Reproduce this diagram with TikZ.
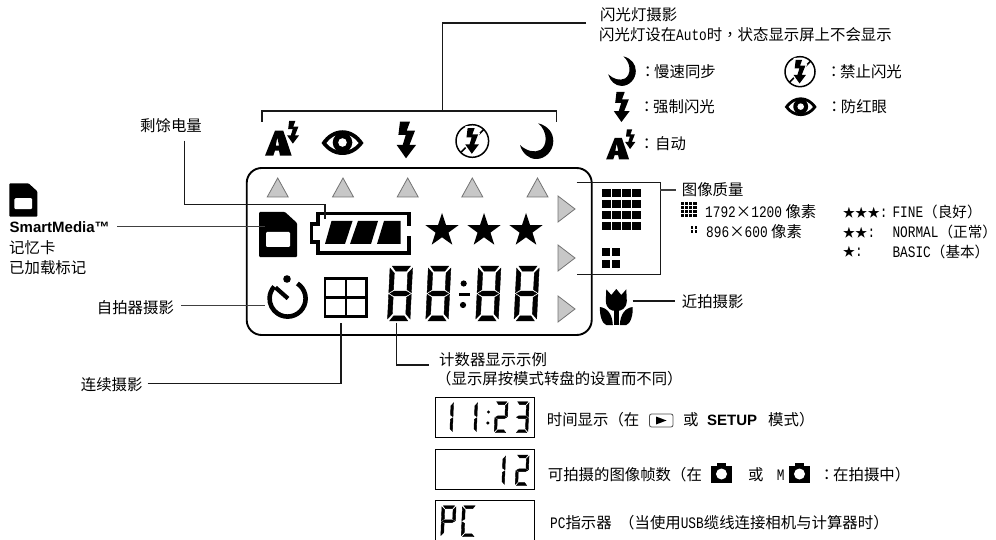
\documentclass[tikz,border=0pt]{standalone}
\usepackage{fontspec}
\setmainfont{Noto Sans CJK SC}
\newfontfamily\cjkc{Noto Sans CJK TC}
\newfontfamily\latm[FakeStretch=0.8]{Liberation Mono}
\newfontfamily\lats{Liberation Sans}
\newcommand\mo[1]{{\latm\fontsize{16}{18}\selectfont #1}}
\newcommand\cln{{\cjkc ：}}
\newcommand\lp{{\cjkc （}}
\newcommand\rp{{\cjkc ）}}
\newcommand\cm{{\cjkc ，}}
\def\sega{(12,0)--(88,0)--(72,9.5)--(28,9.5)--cycle}
\def\segb{(97,4)--(78,13)--(78,43)--(97,48.5)--cycle}
\def\segc{(97,51.5)--(78,57)--(78,87)--(97,96)--cycle}
\def\segd{(12,100)--(28,90.5)--(72,90.5)--(88,100)--cycle}
\def\sege{(3,51.5)--(22,57)--(22,87)--(3,96)--cycle}
\def\segf{(3,4)--(22,13)--(22,43)--(3,48.5)--cycle}
\def\segg{(8,50)--(26,45.5)--(74,45.5)--(92,50)--(74,54.5)--(26,54.5)--cycle}
\newcommand\lcddigit[6]{\begin{scope}[shift={(#1,#2)},x={(#3pt/100,0pt)},y={(-#5pt/100,-#4pt/100)}]
\foreach \s in {#6}{\expandafter\filldraw\expandafter[\expandafter l\expandafter i\expandafter n\expandafter e\expandafter\space\expandafter w\expandafter i\expandafter d\expandafter t\expandafter h\expandafter=\expandafter.\expandafter4\expandafter p\expandafter t\expandafter]\csname seg\s\endcsname;}
\end{scope}}
\newcommand\cellgrid[8]{\foreach \i in {1,...,#3}{\foreach \j in {1,...,#4}{\fill ({#1+(\i-1)*#7},{#2+(\j-1)*#8}) rectangle ++(#5,#6);}}}
\tikzset{
 lab/.style={anchor=base west,inner sep=0pt,font=\fontsize{15.4}{18}\selectfont},
 conn/.style={line width=1.1pt,black!90},
 connb/.style={line width=1.5pt,black!75},
 mark up/.style={fill=black!22,draw=black!55,line width=.8pt},
 lcdbox/.style={draw=black,line width=1pt},
 flashicon/.pic={\fill (-6.7,-18.3)--(3.3,-18.3)--(0,-9.3)--(8.3,-9.3)--(2.7,5)--(9.3,5)--(-.7,18.3)--(-10,5)--(-4,5)--(-1,-5)--(-8.3,-5)--cycle;},
 eyeicon/.pic={
  \fill (-21,0) .. controls (-10,-17) and (10,-17) .. (21,0) .. controls (10,16) and (-10,16) .. (-21,0)--cycle;
  \fill[white] (-16,0) .. controls (-8,-11.5) and (8,-11.5) .. (16,0) .. controls (8,10.5) and (-8,10.5) .. (-16,0)--cycle;
  \fill (0,-.5) circle (9.8); \fill[white] (0,-.5) circle (4.3);},
 moonicon/.pic={\fill (2,-17.7) .. controls (12,-15) and (17,-8) .. (17,0) .. controls (17,10) and (9,18) .. (0,18) .. controls (-8,18) and (-14,12) .. (-16.3,4) .. controls (-10,10) and (-2,12) .. (4,9) .. controls (11,5) and (12,-9) .. (2,-17.7)--cycle;},
 noflashicon/.pic={
  \draw[line width=1.5pt] (0,0) circle (16.3);
  \draw[line width=1.5pt] (11.5,-11.5)--(-11.5,11.5);
  \begin{scope}[scale=.7]
   \fill[white] (-9.7,-21.3)--(6.3,-21.3)--(4,-12)--(11.3,-12)--(6,2)--(14,2)--(-.7,22)--(-14.5,2)--(-7,2)--(-5,-2)--(-12,-2)--cycle;
   \fill (-6.7,-18.3)--(3.3,-18.3)--(0,-9.3)--(8.3,-9.3)--(2.7,5)--(9.3,5)--(-.7,18.3)--(-10,5)--(-4,5)--(-1,-5)--(-8.3,-5)--cycle;
  \end{scope}},
 autoicon/.pic={
  \fill[even odd rule] (-5,-8.3)--(3.3,-8.3)--(11.7,16.7)--(0,16.7)--(-1,11.7)--(-5,11.7)--(-6.7,16.7)--(-15,16.7)--cycle (-2.7,-1.7)--(-1,6.7)--(-4.3,6.7)--cycle;
  \begin{scope}[shift={(13.3,-6.7)},scale=.62]
   \fill (-6.7,-18.3)--(3.3,-18.3)--(0,-9.3)--(8.3,-9.3)--(2.7,5)--(9.3,5)--(-.7,18.3)--(-10,5)--(-4,5)--(-1,-5)--(-8.3,-5)--cycle;
  \end{scope}},
 cardicon/.pic={
  \fill[rounded corners=1pt] (0,0)--(0,45)--(38,45)--(38,11)--(26,0)--cycle;
  \fill[white,rounded corners=1.2pt] (7,20) rectangle (31,35);},
 cameraicon/.pic={
  \fill (0,3.3) rectangle (21,20); \fill (5.5,0) rectangle (15,4);
  \fill[white] (10.5,11) circle (5.5);},
}
\begin{document}
\begin{tikzpicture}[x=1pt,y=-1pt]
\useasboundingbox (0,0) rectangle (996,540);
% ---- flash bracket
\node[lab] (flashtitle) at (600,20.5) {闪光灯摄影};
\node[lab] (flashnote) at (599,40.5) {闪光灯设在\mo{Auto}时\cm 状态显示屏上不会显示};
\coordinate (flashend) at (586,23);
\coordinate (fork) at (442.7,111);
\coordinate (brl) at (262,122);
\coordinate (brr) at (556.7,122);
\draw[conn] (flashend) -| (fork);
\draw[conn] (brl) |- (fork) -| (brr);
\pic at (280,139) {autoicon};
\pic at (342.5,143) {eyeicon};
\pic at (406.7,140) {flashicon};
\pic at (472.3,141) {noflashicon};
\pic at (536.3,141) {moonicon};
% ---- legend
\pic[scale=.83] at (621.7,71) {moonicon};
\node[lab] (c1) at (640,77.5) {\cln}; \node[lab] (t1) at (654,77.5) {慢速同步};
\pic[scale=.92] at (800,71.7) {noflashicon};
\node[lab] (c2) at (826,78) {\cln}; \node[lab] (t2) at (840,78) {禁止闪光};
\pic[scale=.82] at (622,107) {flashicon};
\node[lab] (c3) at (639,113) {\cln}; \node[lab] (t3) at (653,113) {强制闪光};
\pic[scale=.76] at (800.7,107) {eyeicon};
\node[lab] (c4) at (826.5,113) {\cln}; \node[lab] (t4) at (840.7,113) {防红眼};
\pic[scale=.86] at (619,145) {autoicon};
\node[lab] (c5) at (639,150) {\cln}; \node[lab] (t5) at (655,150) {自动};
% ---- LCD
\draw[line width=1.9pt,rounded corners=15pt] (246.7,168) rectangle (591.7,335);
\foreach \x in {277.7,343,407.7,472.3,537.5}{\draw[mark up] (\x,178)--(\x+10.5,197)--(\x-10.5,197)--cycle;}
\foreach \y in {209,258,309}{\draw[mark up] (558,\y-13)--(575,\y)--(558,\y+13)--cycle;}
\pic at (259,212) {cardicon};
\draw[line width=3.2pt] (409,226)--(409,213.5)--(318,213.5)--(318,224)--(311.5,224)--(311.5,242)--(318,242)--(318,253)--(409,253)--(409,236);
\fill (325,244)--(331.5,221)--(352.5,221)--(345,244)--cycle;
\fill (350,244)--(358,221)--(378,221)--(371,244)--cycle;
\fill (377,244)--(384,221)--(400.5,221)--(400.5,244)--cycle;
\foreach \x in {442,484,526}{\fill[shift={(\x,230.5)}] (90:-17.5)--(54:-6.8)--(18:-17.5)--(-18:-6.8)--(-54:-17.5)--(-90:-6.8)--(-126:-17.5)--(-162:-6.8)--(-198:-17.5)--(-234:-6.8)--cycle;}
\draw[line width=4.6pt] (297.4,283.5) arc[start angle=-57,end angle=222,radius=18];
\fill (287,279) circle (3.8);
\draw[line width=4.2pt] (275.5,287.5)--(288,298.5);
\draw[line width=2.4pt] (324.8,278.5) rectangle (366.6,316.5) (345.7,278.5)--(345.7,316.5) (324.8,297.5)--(366.6,297.5);
\lcddigit{389.4}{266}{24}{55}{2.7}{a,b,c,d,e,f,g}
\lcddigit{427.7}{266}{24}{55}{2.7}{a,b,c,d,e,f,g}
\lcddigit{477.7}{266}{24}{55}{2.7}{a,b,c,d,e,f,g}
\lcddigit{516}{266}{24}{55}{2.7}{a,b,c,d,e,f,g}
\fill (463.7,283.5) circle (3.1) (463,305) circle (3.1);
\fill (458.5,292.5) rectangle (470,295.5);
% image quality
\cellgrid{602.3}{189}{4}{4}{8.3}{8}{10}{11}
\cellgrid{602.3}{248.3}{2}{2}{8}{8}{10}{11.7}
\coordinate (iqa) at (660,190);
\node[lab] (iqt) at (681.7,195.5) {图像质量};
\draw[conn,line width=.9pt] (576.7,182.7) -- (660,182.7) -- (660,274) -- (576.7,274);
\draw[connb] (iqa) -- (676,190);
\cellgrid{681}{202.3}{4}{4}{3.2}{3.1}{4.1}{4}
\node[lab] (q1) at (705,217.5) {\mo{1792}×\mo{1200} 像素};
\cellgrid{690.6}{226.5}{2}{2}{2.6}{2.6}{3.9}{3.9}
\node[lab] (q2) at (706,237) {\mo{896}×\mo{600} 像素};
\node[lab,font=\fontsize{12.3}{14}\selectfont] (s1) at (842.7,217.5) {★★★\mo{:}};
\node[lab,font=\fontsize{12.3}{14}\selectfont] (s2) at (842.7,237) {★★\mo{:}};
\node[lab,font=\fontsize{12.3}{14}\selectfont] (s3) at (842.7,257) {★\mo{:}};
\node[lab,font=\fontsize{14.6}{17}\selectfont] (f1) at (892.3,218) {\mo{FINE}\lp 良好\rp};
\node[lab,font=\fontsize{14.6}{17}\selectfont] (f2) at (892.3,237.5) {\mo{NORMAL}\lp 正常\rp};
\node[lab,font=\fontsize{14.6}{17}\selectfont] (f3) at (892.3,257.5) {\mo{BASIC}\lp 基本\rp};
% tulip
\begin{scope}[shift={(616.3,307)}]
\fill (-10,-17.7)--(-5,-12)--(0,-18)--(5,-12)--(10,-17.7)--(10.5,-6) .. controls (10,2) and (5,4) .. (0,4) .. controls (-5,4) and (-10,2) .. (-10.5,-6)--cycle;
\fill (-2.4,0) rectangle (2.4,18);
\fill (-16.3,0) .. controls (-9,1) and (-4,7) .. (-3.5,18) -- (-10,18) .. controls (-14,17) and (-17,8) .. (-16.3,0)--cycle;
\fill (16.3,0) .. controls (9,1) and (4,7) .. (3.5,18) -- (10,18) .. controls (14,17) and (17,8) .. (16.3,0)--cycle;
\end{scope}
\coordinate (tulip) at (632.7,301);
\coordinate (tulipend) at (675,301);
\node[lab] (tt) at (681.7,307) {近拍摄影};
\draw[conn] (tulip)--(tulipend);
% ---- left labels
\node[lab] (batt) at (140,132) {剩馀电量};
\coordinate (battstart) at (184.3,140.7);
\coordinate (battknee) at (184.3,204.3);
\coordinate (battend) at (325,219);
\draw[conn] (battstart)--(battknee)-|(battend);
\pic[scale=.74] at (9.3,183.3) {cardicon};
\node[lab,font=\fontsize{15}{17}\selectfont\lats\bfseries] (sm) at (9.5,233) {SmartMedia™};
\node[lab] (sm2) at (9,253.5) {记忆卡};
\node[lab] (sm3) at (9,273.5) {已加载标记};
\coordinate (smstart) at (117,226.7);
\coordinate (smend) at (265,226.7);
\draw[connb] (smstart)--(smend);
\node[lab] (self) at (96.7,313) {自拍器摄影};
\coordinate (selfstart) at (181,305.7);
\coordinate (selfend) at (265,305.7);
\draw[connb] (selfstart)--(selfend);
\node[lab] (cont) at (80.7,390.5) {连续摄影};
\coordinate (contstart) at (147.7,383.3);
\coordinate (contknee) at (341,383.3);
\coordinate (contend) at (341,322.7);
\draw[conn] (contstart)--(contknee)--(contend);
\coordinate (cntstart) at (396.7,322.7);
\coordinate (cntend) at (429,365);
\draw[conn] (cntstart)|-(cntend);
\node[lab] (cnt1) at (439,365.5) {计数器显示示例};
\node[lab] (cnt2) at (436,384) {\lp 显示屏按模式转盘的设置而不同\rp};
% ---- counter examples
\draw[lcdbox] (435.3,397.3) rectangle (534,437.3);
\lcddigit{440.5}{401.7}{13.5}{31}{1.2}{b,c}
\lcddigit{464.5}{401.7}{13.5}{31}{1.2}{b,c}
\fill (488.5,412) circle (1.7) (487.8,423) circle (1.7);
\lcddigit{495}{401.7}{13.5}{31}{1.2}{a,b,g,e,d}
\lcddigit{516}{401.7}{13.5}{31}{1.2}{a,b,g,c,d}
\draw[lcdbox] (435.3,449.3) rectangle (534,489.3);
\lcddigit{492.5}{455}{13.5}{30.5}{1.2}{b,c}
\lcddigit{516}{455}{13.5}{30.5}{1.2}{a,b,g,e,d}
\draw[lcdbox] (435.3,540.5)--(435.3,500.7)--(534,500.7)--(534,540.5);
\lcddigit{441.5}{505.7}{15}{31}{1.2}{a,b,f,g,e}
\lcddigit{462}{505.7}{15}{31}{1.2}{a,f,e,d}
\node[lab] (r1a) at (546.7,425.5) {时间显示\lp 在};
\draw[line width=.8pt,black!70,rounded corners=2pt] (649.5,414) rectangle (673,427);
\fill (656,416.5)--(666.5,420.5)--(656,424.5)--cycle;
\node[lab] (r1b) at (683,425.5) {或};
\node[lab,font=\fontsize{15}{17}\selectfont\lats\bfseries] (r1c) at (707,425.5) {SETUP};
\node[lab] (r1d) at (768,425.5) {模式\rp};
\node[lab] (r2a) at (547.7,480.5) {可拍摄的图像帧数\lp 在};
\pic at (711,463) {cameraicon};
\node[lab] (r2b) at (748,480.5) {或};
\node[lab] (r2c) at (776.7,480.5) {\mo{M}};
\pic at (789,463) {cameraicon};
\node[lab] (r2d) at (819,480.5) {\cln};
\node[lab] (r2e) at (833,480.5) {在拍摄中\rp};
\node[lab] (r3a) at (550,528) {\mo{PC}指示器};
\node[lab] (r3b) at (619,528) {\lp 当使用\mo{USB}缆线连接相机与计算器时\rp};
\end{tikzpicture}
\end{document}
